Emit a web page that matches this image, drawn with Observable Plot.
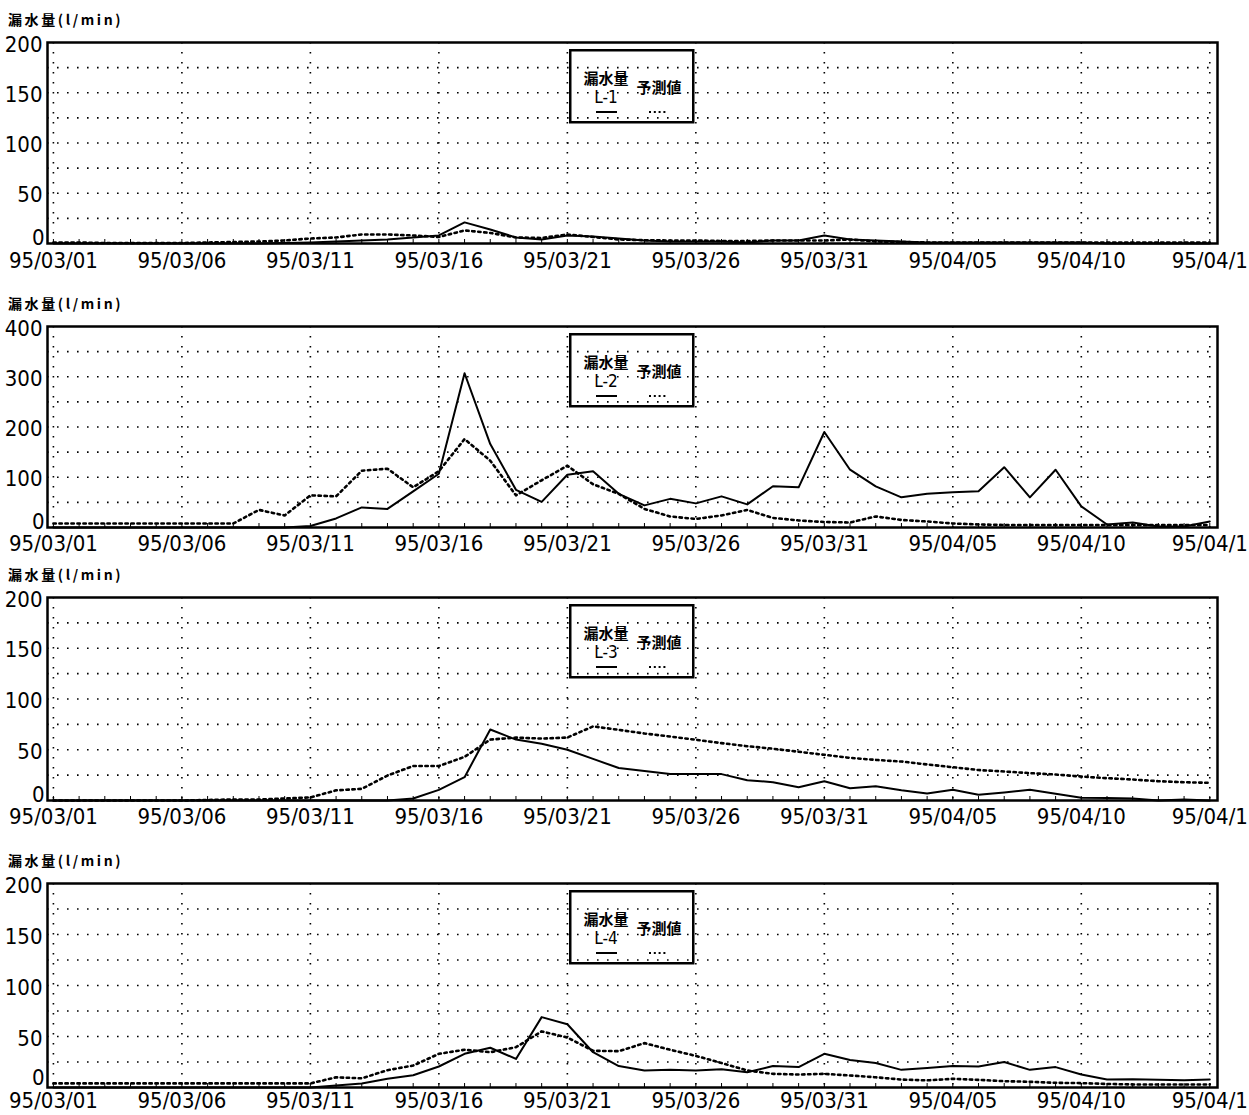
<!DOCTYPE html>
<html>
<head>
<meta charset="utf-8">
<script src="https://cdn.jsdelivr.net/npm/d3@7"></script>
<script src="https://cdn.jsdelivr.net/npm/@observablehq/plot@0.6"></script>
<style>
  html, body { margin: 0; padding: 0; background: #fff; }
  #page { position: relative; width: 1249px; height: 1115px; background: #fff; overflow: hidden; }
  .panel { position: absolute; left: 0; }
  .ylab { position: absolute; left: 8px; font-family: "Noto Sans CJK JP", sans-serif; font-weight: 700; font-size: 14px; letter-spacing: 2.6px; line-height: 16px; color: #000; white-space: nowrap; }
  .legend { position: absolute; }
</style>
</head>
<body>
<div id="page"></div>
<script>
// ---------- data ----------
const startDate = "1995-03-01";   // first daily value
const tickDates = ["1995-03-01","1995-03-06","1995-03-11","1995-03-16","1995-03-21","1995-03-26","1995-03-31","1995-04-05","1995-04-10","1995-04-15"];
const tickLabels = ["95/03/01","95/03/06","95/03/11","95/03/16","95/03/21","95/03/26","95/03/31","95/04/05","95/04/10","95/04/1"];
const yLabel = "漏水量(l/min)";
const legendTitle = "漏水量";
const legendPred = "予測値";
const panelNames = ["L-1", "L-2", "L-3", "L-4"];
const panelMax = [200, 400, 200, 200];
const panelLabelStep = [50, 100, 50, 50];
const panelGridStep = [25, 50, 25, 25];

// daily values 95/03/01 .. 95/04/15
const L1_obs = [0,0,0,0,0,0,0,0,0,0.5, 1,2,3,4,6,8,21,14,6,4,8,7,5,3,2,2,2,1,3,3,8, 4,3,2,1,1,1,1,1,1,1,0,0,0,0,0];
const L1_pred = [1,1,0.5,0.5,0.5,0.5,1,1.5,2,3, 5,6,9,9,8,6.5,13,10.5,6,5.5,9,6.5,4,3.3,3,3,2.5,2.5,3,3,3, 4,2,1.5,1,1,1,1,1,1,1,1,1,1,1,1];
const L2_obs = [0,0,0,0,0,0,0,0,0,0, 3,18,40,37,72,107,307,166,75,51,105,112,67,44,57,48,62,46,82,80,190, 115,82,60,67,70,72,120,60,115,42,6,10,2,2,12];
const L2_pred = [8,8,8,8,8,8,8,8,35,24, 64,62,113,117,80,112,176,133,64,94,123,86,67,37,22,17,24,35,19,14,11, 10,22,15,12,8,6,5,5,5,5,5,5,5,5,5];
const L3_obs = [0,0,0,0,0,0,0,0,0,0, 0,0,0,0,2,10.5,23,70,60,56,50,41,32,29,26,26,26,20,18,13,19, 12,14,10,7,10.5,5.6,8,10.5,6.6,2.7,2.5,2,0,1,0];
const L3_pred = [0,0,0,0,0,0,0.5,1,1,2, 3,10,11.5,24.6,34,34,43,60,62,61,62,73,69.6,66,63,59.8,56.5,53.5,51,48,45, 42,40,38.4,35.5,32.8,30,28.6,27,25.6,23.6,22,20.7,19,18,17.4];
const L4_obs = [0,0,0,0,0,0,0,0,0,0, 0,2,4,8.5,12,20.6,33,39,28,69,62,34.6,21,16.7,17.3,16.7,18,15,21,20,33, 27,24,17.3,19,21,20.6,25,17.3,20,12.7,7.8,8,7.5,7,7.8];
const L4_pred = [4,4,4,4,4,4,4,4,4,4, 4,10,9,17,21.5,33,37,34.6,39.5,55,49,36,35.6,43.5,37,31,24,16.7,13.4,12.7,13.4, 11.8,10,7.8,7,8.5,7.5,6.2,5.6,4.6,4.3,3.5,3,3,3,3];
const observed = [L1_obs, L2_obs, L3_obs, L4_obs];
const predicted = [L1_pred, L2_pred, L3_pred, L4_pred];

// ---------- layout ----------
const W = 1249;
const plotTops = [42, 326, 597, 883];
const plotHeights = [201, 201, 203, 204];
const bottoms = [36, 36, 36, 26];
const xPads = [9, 8, 8, 5];
const zeroDy = [-6, -6, -6, -10];
const mTop = 12, mLeft = 47, mRight = 32;

const DAY = 864e5;
const t0 = new Date(startDate + "T00:00:00Z");
const dayDate = i => new Date(t0.getTime() + i * DAY);
const xTicks = tickDates.map(s => new Date(s + "T00:00:00Z"));
const labelOf = new Map(xTicks.map((d, i) => [d.getTime(), tickLabels[i]]));
const lastDay = dayDate(L1_obs.length - 1);
const xDomain = [new Date(t0.getTime() - 0.23 * DAY), new Date(lastDay.getTime() + 0.3 * DAY)];
const tickFont = "'Liberation Sans Narrow', 'Arial Narrow', 'DejaVu Sans Condensed', sans-serif";
const dotted = "2.4 3.6";
const gridDash = "1.6 8.4";

const page = document.getElementById("page");

for (let p = 0; p < 4; p++) {
  const rows = observed[p].map((v, i) => ({date: dayDate(i), obs: v, pred: predicted[p][i]}));
  const days = rows.map(r => r.date);
  const max = panelMax[p];
  const gridY = d3.range(panelGridStep[p], max, panelGridStep[p]);
  const labelY = d3.range(panelLabelStep[p], max + 1, panelLabelStep[p]);
  const ph = plotHeights[p];

  const chart = Plot.plot({
    width: W,
    height: mTop + ph + bottoms[p],
    marginTop: mTop, marginBottom: bottoms[p], marginLeft: mLeft, marginRight: mRight,
    style: {fontFamily: tickFont, fontSize: "22px", color: "#000", background: "transparent", overflow: "visible"},
    x: {type: "utc", domain: xDomain},
    y: {domain: [0, max]},
    marks: [
      Plot.gridY(gridY, {stroke: "#000", strokeOpacity: 1, strokeWidth: 1.6, strokeDasharray: gridDash}),
      Plot.gridX(xTicks, {stroke: "#000", strokeOpacity: 1, strokeWidth: 1.6, strokeDasharray: gridDash}),
      Plot.tickX(days, {x: d => d, insetTop: ph - 4, stroke: "#000", strokeWidth: 1}),
      Plot.line(rows, {x: "date", y: "pred", stroke: "#000", strokeWidth: 2.6, strokeDasharray: dotted}),
      Plot.line(rows, {x: "date", y: "obs", stroke: "#000", strokeWidth: 2}),
      Plot.frame({stroke: "#000", strokeWidth: 2.5}),
      Plot.axisX(xTicks, {tickFormat: d => labelOf.get(d.getTime()), tickSize: 0, tickPadding: xPads[p], label: null, fontSize: 22}),
      Plot.axisY(labelY, {tickSize: 0, tickPadding: 5, label: null, fontSize: 22, dy: 2}),
      Plot.axisY([0], {tickSize: 0, tickPadding: 3, label: null, fontSize: 22, dy: zeroDy[p]})
    ]
  });
  const div = document.createElement("div");
  div.className = "panel";
  div.style.top = (plotTops[p] - mTop) + "px";
  div.appendChild(chart);
  page.appendChild(div);

  const lab = document.createElement("div");
  lab.className = "ylab";
  lab.style.top = (plotTops[p] - 31) + "px";
  lab.textContent = yLabel;
  page.appendChild(lab);

  // legend box
  const lg = document.createElement("div");
  lg.className = "legend";
  lg.style.left = "569px";
  lg.style.top = (plotTops[p] + 7) + "px";
  lg.innerHTML =
    `<svg width="126" height="75" xmlns="http://www.w3.org/2000/svg">
      <rect x="1.25" y="1.25" width="123" height="72" fill="none" stroke="#000" stroke-width="2.5"/>
      <text x="37" y="28.5" text-anchor="middle" dominant-baseline="central" font-family="Noto Sans CJK JP, sans-serif" font-weight="700" font-size="15">${legendTitle}</text>
      <text x="90" y="37.5" text-anchor="middle" dominant-baseline="central" font-family="Noto Sans CJK JP, sans-serif" font-weight="700" font-size="15">${legendPred}</text>
      <text x="37" y="48" text-anchor="middle" dominant-baseline="central" font-family="${tickFont.replace(/'/g, "")}" font-size="17">${panelNames[p]}</text>
      <line x1="27" x2="48" y1="63" y2="63" stroke="#000" stroke-width="2"/>
      <line x1="80" x2="99" y1="63" y2="63" stroke="#000" stroke-width="2" stroke-dasharray="2 2.8"/>
    </svg>`;
  page.appendChild(lg);
}
</script>
</body>
</html>
